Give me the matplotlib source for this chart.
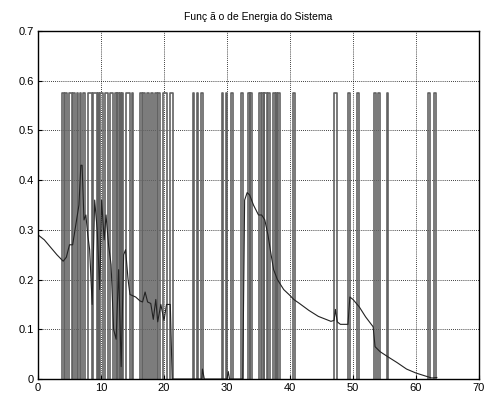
import matplotlib

matplotlib.use("Agg")
import matplotlib.pyplot as plt
import numpy as np

TITLE = "Funç ã o de Energia do Sistema"

# slowly varying energy curve
curve_x = [0, 1, 2, 3, 4, 4.5, 5, 5.5, 6, 6.5, 6.8, 7.0, 7.3, 7.6, 7.9, 8.2,
           8.6, 9.0, 9.4, 9.8, 10.1, 10.5, 10.8, 11.2, 11.6, 12.0, 12.4, 12.8,
           13.2, 13.6, 13.9, 14.3, 14.6, 15.5, 16.2, 16.6, 17.0, 17.4, 17.9,
           18.3, 18.7, 19.0, 19.5, 20.0, 20.4, 21.0, 21.3, 22, 26.0, 26.1,
           26.4, 30.0, 30.2, 30.4, 32.5, 32.8, 33.2, 33.6, 34.2, 35.0, 35.5,
           36.0, 36.5, 37.0, 37.4, 38.0, 39.0, 40.0, 40.6, 41.5, 43.0, 44.5,
           46.5, 47.0, 47.2, 47.5, 48.0, 49.2, 49.5, 50.0, 51.0, 52.0, 53.2,
           53.5, 54.3, 55.5, 57.0, 58.5, 60.0, 61.5, 62.5, 63.3]
curve_y = [0.29, 0.28, 0.265, 0.25, 0.237, 0.245, 0.27, 0.27, 0.31, 0.35, 0.43,
           0.43, 0.32, 0.33, 0.29, 0.26, 0.15, 0.36, 0.30, 0.18, 0.36, 0.28,
           0.33, 0.27, 0.23, 0.10, 0.08, 0.22, 0.025, 0.25, 0.26, 0.20, 0.17,
           0.165, 0.157, 0.155, 0.175, 0.155, 0.152, 0.12, 0.16, 0.115, 0.15,
           0.118, 0.15, 0.15, 0.0, 0.0, 0.0, 0.02, 0.0, 0.0, 0.015, 0.0, 0.0,
           0.36, 0.375, 0.37, 0.35, 0.33, 0.33, 0.32, 0.29, 0.25, 0.22, 0.20,
           0.18, 0.168, 0.16, 0.152, 0.138, 0.126, 0.116, 0.118, 0.14, 0.115,
           0.11, 0.11, 0.165, 0.16, 0.145, 0.125, 0.105, 0.065, 0.055, 0.045,
           0.033, 0.02, 0.012, 0.006, 0.002, 0.003]

# jumps of the energy up to the saturation level
pulse_level = 0.575
pulse_start = [3.8, 4.3, 4.9, 5.6, 6.2, 6.7, 7.1, 7.9, 8.7, 9.5, 9.8, 10.6,
               11.4, 12.2, 12.6, 13.0, 13.3, 14.0, 14.9, 16.2, 16.7, 17.3,
               17.9, 18.6, 19.0, 19.8, 21.0, 24.6, 25.2, 25.9, 29.2, 29.8,
               30.6, 32.2, 33.3, 33.7, 35.1, 35.5, 35.9, 36.5, 37.3, 37.7,
               38.1, 40.5, 47.0, 49.2, 50.6, 53.3, 53.9, 55.4, 61.9, 62.8]
pulse_end = [4.1, 4.6, 5.4, 5.9, 6.3, 6.8, 7.5, 8.6, 9.4, 9.7, 10.3, 11.1,
             11.9, 12.5, 12.9, 13.2, 13.5, 14.6, 15.1, 16.5, 17.0, 17.6,
             18.3, 18.9, 19.4, 20.5, 21.4, 24.8, 25.4, 26.2, 29.4, 30.0,
             31.0, 32.5, 33.6, 34.0, 35.4, 35.8, 36.3, 36.8, 37.6, 38.0,
             38.4, 40.8, 47.4, 49.5, 51.0, 53.6, 54.3, 55.6, 62.2, 63.2]

plt.rcParams["font.family"] = ["Liberation Sans", "DejaVu Sans"]
plt.rcParams["font.size"] = 8

fig = plt.figure(figsize=(4.87, 3.98), dpi=100)
ax = fig.add_axes([0.078, 0.0477, 0.9056, 0.8743])

# build the pulses as one line broken by NaNs
px, py = [], []
for s, e in zip(pulse_start, pulse_end):
    px += [s, s, e, e, np.nan]
    py += [0, pulse_level, pulse_level, 0, np.nan]
ax.plot(px, py, color="#626262", lw=1.2)
ax.plot(curve_x, curve_y, color="#222222", lw=0.8)

ax.set_xlim(0, 70)
ax.set_ylim(0, 0.7)
ax.set_xticks(np.arange(0, 71, 10))
ax.set_yticks(np.arange(0, 0.71, 0.1))
ax.set_yticklabels(["0", "0.1", "0.2", "0.3", "0.4", "0.5", "0.6", "0.7"])
ax.grid(True, color="black", linestyle=(0, (1, 1.5)), linewidth=0.6)
ax.tick_params(direction="in", length=3, width=0.8, pad=3)
for sp in ax.spines.values():
    sp.set_linewidth(1.0)
ax.set_title(TITLE, fontsize=7.5, pad=8)

fig.savefig("out.png", dpi=100)
